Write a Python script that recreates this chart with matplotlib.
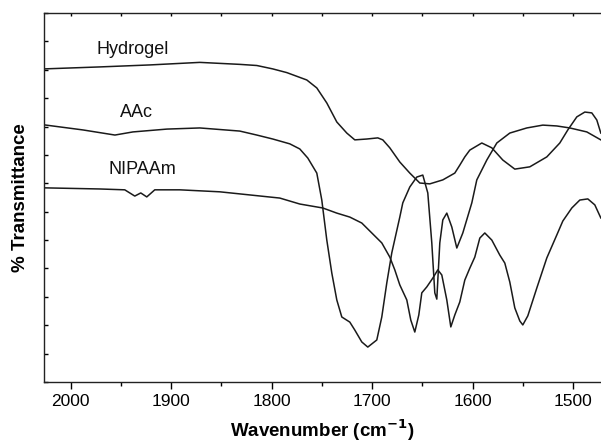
import numpy as np
import matplotlib.pyplot as plt
from matplotlib.ticker import MultipleLocator

# FTIR spectra (wavenumber in cm-1, offset transmittance)
hydrogel_wn = [2026.56, 1971.01, 1921.26, 1871.52, 1831.73, 1814.81, 1798.90, 1784.97, 1765.07, 1755.12,
               1745.17, 1735.22, 1725.28, 1717.32, 1705.38, 1694.44, 1689.46, 1682.50, 1672.55, 1662.60,
               1652.65, 1642.71, 1629.77, 1617.84, 1612.86, 1607.89, 1602.91, 1590.98, 1581.03, 1570.09,
               1558.15, 1543.23, 1526.31, 1513.38, 1505.42, 1496.46, 1488.50, 1481.54, 1476.57, 1472.59]
hydrogel_t = [11.03, 11.10, 11.17, 11.26, 11.19, 11.15, 11.03, 10.90, 10.64, 10.36,
              9.83, 9.16, 8.77, 8.53, 8.56, 8.60, 8.53, 8.25, 7.75, 7.36,
              7.01, 6.98, 7.12, 7.36, 7.64, 7.93, 8.17, 8.42, 8.25, 7.82,
              7.50, 7.58, 7.93, 8.42, 8.88, 9.34, 9.51, 9.48, 9.23, 8.77]

aac_wn = [2026.56, 1987.76, 1955.93, 1938.02, 1904.20, 1871.52, 1831.73, 1814.81, 1798.90, 1781.99,
          1772.04, 1764.08, 1755.12, 1750.15, 1745.17, 1740.20, 1735.22, 1730.25, 1722.29, 1717.32,
          1710.36, 1704.39, 1695.44, 1690.47, 1685.49, 1680.52, 1672.55, 1669.57, 1662.60, 1655.64,
          1649.67, 1644.70, 1640.72, 1637.73, 1635.74, 1632.76, 1629.77, 1625.79, 1620.82, 1615.84,
          1609.87, 1600.92, 1595.95, 1586.00, 1576.05, 1563.12, 1546.21, 1530.29, 1516.36, 1503.43,
          1486.52, 1472.59]
aac_t = [9.06, 8.88, 8.70, 8.81, 8.91, 8.95, 8.84, 8.70, 8.56, 8.39,
         8.21, 7.89, 7.36, 6.41, 5.00, 3.84, 2.89, 2.29, 2.11, 1.83,
         1.41, 1.23, 1.48, 2.29, 3.49, 4.55, 5.81, 6.31, 6.87, 7.22,
         7.29, 6.66, 4.90, 3.14, 2.92, 4.90, 5.71, 5.95, 5.46, 4.72,
         5.25, 6.31, 7.12, 7.82, 8.42, 8.77, 8.95, 9.05, 9.02, 8.95,
         8.81, 8.53]

nipaam_wn = [2026.56, 1971.01, 1946.14, 1936.19, 1930.23, 1924.26, 1916.30, 1891.43, 1851.64, 1821.79,
             1791.95, 1772.04, 1749.16, 1735.22, 1722.29, 1710.36, 1700.41, 1690.47, 1682.50, 1677.53,
             1672.55, 1665.59, 1661.61, 1657.63, 1653.65, 1650.67, 1645.69, 1639.72, 1634.75, 1630.77,
             1625.79, 1621.81, 1617.84, 1612.86, 1607.89, 1602.91, 1597.94, 1592.96, 1587.99, 1581.03,
             1573.07, 1568.09, 1563.12, 1558.15, 1553.17, 1550.19, 1545.21, 1536.26, 1526.31, 1516.36,
             1510.39, 1501.44, 1493.48, 1485.52, 1478.56, 1472.59]
nipaam_t = [6.84, 6.80, 6.77, 6.55, 6.66, 6.52, 6.77, 6.77, 6.70, 6.59,
            6.48, 6.27, 6.13, 5.95, 5.81, 5.60, 5.25, 4.90, 4.40, 3.95,
            3.42, 2.89, 2.18, 1.76, 2.36, 3.14, 3.35, 3.66, 3.95, 3.77,
            2.89, 1.94, 2.36, 2.82, 3.59, 4.01, 4.40, 5.07, 5.25, 5.00,
            4.47, 4.19, 3.52, 2.61, 2.15, 2.01, 2.33, 3.31, 4.37, 5.18,
            5.67, 6.13, 6.41, 6.45, 6.24, 5.78]

names = ['Hydrogel', 'AAc', 'NIPAAm']
label_pos = [(1938, 11.7), (1935, 9.51), (1929, 7.47)]

plt.rcParams['font.family'] = ['Liberation Sans', 'DejaVu Sans']

fig = plt.figure(figsize=(6.01, 4.45), dpi=100)
ax = fig.add_axes([0.0732, 0.1416, 0.9268, 0.8292])

for wn, t in [(hydrogel_wn, hydrogel_t), (aac_wn, aac_t), (nipaam_wn, nipaam_t)]:
    ax.plot(wn, t, color='#1a1a1a', linewidth=1.1, solid_joinstyle='round')

for name, (x, y) in zip(names, label_pos):
    ax.text(x, y, name, fontsize=13, ha='center', va='center', color='#111111')

ax.set_xlim(2026.5, 1472.4)
ax.set_ylim(0, 13)

ax.xaxis.set_major_locator(MultipleLocator(100))
ax.xaxis.set_minor_locator(MultipleLocator(50))
ax.yaxis.set_major_locator(MultipleLocator(1))
ax.set_yticklabels([])
ax.tick_params(axis='x', which='major', direction='out', length=5, width=1, labelsize=12.5)
ax.tick_params(axis='x', which='minor', direction='out', length=3, width=1)
ax.tick_params(axis='y', which='major', direction='in', length=3, width=1, left=True)
ax.spines['right'].set_visible(False)
for s in ['left', 'bottom', 'top']:
    ax.spines[s].set_linewidth(1.0)
    ax.spines[s].set_color('#222222')

# top axis has small inward ticks every 50
top = ax.secondary_xaxis('top')
top.xaxis.set_major_locator(MultipleLocator(50))
top.tick_params(direction='in', length=2, width=1, labelsize=0, labeltop=False)
top.spines['top'].set_visible(False)

ax.set_xlabel('Wavenumber (cm$^{\\mathbf{-1}}$)', fontsize=13.5, fontweight='bold', labelpad=6)
ax.set_ylabel('% Transmittance', fontsize=13.5, fontweight='bold', labelpad=7)

fig.savefig('out.png', dpi=100)
